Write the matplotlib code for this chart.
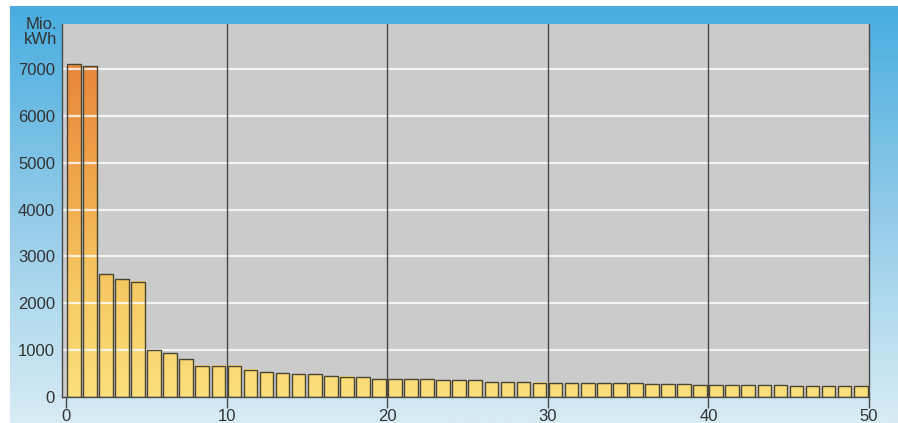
import numpy as np
import matplotlib.pyplot as plt
from matplotlib.colors import LinearSegmentedColormap, Normalize

# values (Mio. kWh), one bar per position 0..49
values = [7120, 7070, 2630, 2510, 2460, 1000, 930, 800, 665, 665,
          665, 580, 525, 500, 485, 480, 440, 430, 420, 380,
          380, 370, 370, 355, 350, 350, 315, 315, 315, 300,
          290, 285, 290, 290, 290, 290, 265, 265, 265, 250,
          250, 250, 250, 250, 250, 230, 230, 230, 230, 230]
positions = np.arange(len(values))
xticks = [0, 10, 20, 30, 40, 50]
yticks = [0, 1000, 2000, 3000, 4000, 5000, 6000, 7000]

plt.rcParams['font.family'] = ['Liberation Sans', 'DejaVu Sans']

fig = plt.figure(figsize=(8.98, 4.23), dpi=100)
fig.patch.set_facecolor('white')

# blue backdrop, darker at the top
bg = fig.add_axes([0, 0, 1, 1], zorder=-10)
blue = LinearSegmentedColormap.from_list('blue', ['#d8ecf4', '#93cbe9', '#48ade0'])
bg.imshow(np.linspace(0, 1, 256).reshape(-1, 1), cmap=blue, origin='lower',
          aspect='auto', extent=[10 / 898, 1, 0, 416 / 423])
bg.set_xlim(0, 1)
bg.set_ylim(0, 1)
bg.axis('off')

ax = fig.add_axes([62 / 898, 26.3 / 423, (869 - 62) / 898, (396.7 - 24) / 423])
ax.set_facecolor('#cbcbcb')

# bars with the orange-to-yellow gradient, shared over height
warm = LinearSegmentedColormap.from_list('warm', ['#fbe07c', '#f6c862', '#efa54b', '#e8873a'])
norm = Normalize(0, 7100)
grad = np.linspace(0, 1, 200).reshape(-1, 1)
width = 0.85
for x, v in zip(positions, values):
    ax.imshow(grad * v, cmap=warm, norm=norm, origin='lower', aspect='auto',
              extent=[x + 0.06, x + 0.06 + width, 0, v], zorder=2)
ax.bar(positions + 0.06, values, width=width, align='edge', facecolor='none',
       edgecolor='#4a4636', linewidth=1.0, zorder=3)

# grid
for y in yticks[1:]:
    ax.axhline(y, color='white', lw=1.6, alpha=0.8, zorder=2.5)
for x in xticks[1:-1]:
    ax.axvline(x, color='#4a4a4a', lw=1.0, zorder=4)

ax.set_xlim(-0.25, 50)
ax.set_ylim(0, 7970)
ax.set_xticks(xticks)
ax.set_yticks(yticks)
ax.tick_params(axis='x', length=8, width=1, color='#4a4a4a', pad=1,
               labelsize=12, labelcolor='#333333')
ax.tick_params(axis='y', length=0, pad=5, labelsize=12, labelcolor='#333333')

ax.spines['top'].set_visible(False)
for side in ['left', 'right', 'bottom']:
    ax.spines[side].set_color('#4a4a4a')
    ax.spines[side].set_linewidth(1.0)

fig.text(57 / 898, 1 - 17 / 423, 'Mio.\nkWh', ha='right', va='top',
         fontsize=12, color='#333333', linespacing=1.0)

fig.savefig('out.png', dpi=100)
